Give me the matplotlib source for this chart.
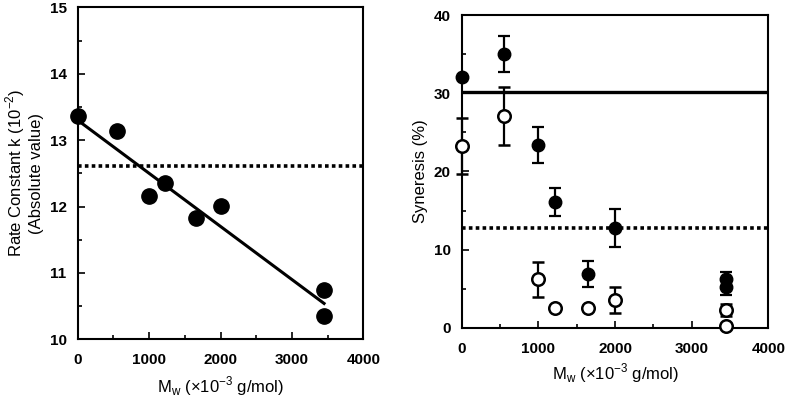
import matplotlib
matplotlib.use("Agg")
import matplotlib.pyplot as plt
from matplotlib.ticker import MultipleLocator

plt.rcParams['font.family'] = ['Liberation Sans', 'DejaVu Sans']

# Left panel: rate constant
k_x = [0, 550, 1000, 1220, 1650, 2000, 3450, 3450]
k_y = [13.36, 13.14, 12.16, 12.36, 11.82, 12.01, 10.74, 10.35]
fit_x = [0, 3450]
fit_y = [13.30, 10.54]
k_ref = 12.61

# Right panel: syneresis
filled_x = [0, 550, 1000, 1220, 1650, 2000, 3450, 3450]
filled_y = [32.1, 35.0, 23.4, 16.1, 6.9, 12.8, 6.3, 5.2]
filled_err = [0, 2.3, 2.3, 1.8, 1.7, 2.4, 0.9, 1.0]
open_x = [0, 550, 1000, 1220, 1650, 2000, 3450, 3450]
open_y = [23.3, 27.1, 6.2, 2.6, 2.5, 3.6, 2.3, 0.2]
open_err = [3.6, 3.7, 2.2, 0, 0, 1.7, 0.8, 0]
syn_solid = 30.1
syn_dotted = 12.8

fig = plt.figure(figsize=(7.89, 3.98), dpi=100)
ax1 = fig.add_axes([0.0985, 0.1475, 0.362, 0.834])
ax2 = fig.add_axes([0.5852, 0.1759, 0.3886, 0.7864])

dots = (0, (1.0, 0.9))

def style(ax):
    for s in ax.spines.values():
        s.set_linewidth(1.5)
    ax.tick_params(which='both', direction='in', width=1.2)
    ax.tick_params(which='major', length=5)
    ax.tick_params(which='minor', length=3)
    ax.tick_params(axis='x', pad=10)
    ax.tick_params(axis='y', pad=8)
    for lab in ax.get_xticklabels() + ax.get_yticklabels():
        lab.set_fontsize(11)
        lab.set_fontweight('bold')

xlab = r'M$_\mathregular{w}$ (×10$^\mathregular{-3}$ g/mol)'

# Left
ax1.plot(fit_x, fit_y, color='black', lw=2.2, zorder=2)
ax1.axhline(k_ref, color='black', lw=2.6, linestyle=dots, zorder=1)
ax1.plot(k_x, k_y, 'o', color='black', ms=11, zorder=3, clip_on=False)
ax1.set_xlim(0, 4000)
ax1.set_ylim(10, 15)
ax1.xaxis.set_major_locator(MultipleLocator(1000))
ax1.xaxis.set_minor_locator(MultipleLocator(500))
ax1.yaxis.set_major_locator(MultipleLocator(1))
ax1.yaxis.set_minor_locator(MultipleLocator(0.5))
ax1.set_xlabel(xlab, fontsize=12, labelpad=5)
ax1.set_ylabel('Rate Constant k (10$^\\mathregular{-2}$)\n(Absolute value)', fontsize=12)
style(ax1)

# Right
ax2.axhline(syn_solid, color='black', lw=2.4, zorder=1)
ax2.axhline(syn_dotted, color='black', lw=2.6, linestyle=dots, zorder=1)
ax2.errorbar(filled_x, filled_y, yerr=filled_err, fmt='o', color='black',
             ms=9, elinewidth=1.6, capsize=4, capthick=1.6, zorder=3, clip_on=False)
ax2.errorbar(open_x, open_y, yerr=open_err, fmt='o', color='black', mfc='white',
             mec='black', mew=1.8, ms=9, elinewidth=1.6, capsize=4, capthick=1.6,
             zorder=3, clip_on=False)
ax2.set_xlim(0, 4000)
ax2.set_ylim(0, 40)
ax2.xaxis.set_major_locator(MultipleLocator(1000))
ax2.xaxis.set_minor_locator(MultipleLocator(500))
ax2.yaxis.set_major_locator(MultipleLocator(10))
ax2.yaxis.set_minor_locator(MultipleLocator(5))
ax2.set_xlabel(xlab, fontsize=12, labelpad=4)
ax2.set_ylabel('Syneresis (%)', fontsize=12)
style(ax2)

fig.savefig('out.png', dpi=100)
